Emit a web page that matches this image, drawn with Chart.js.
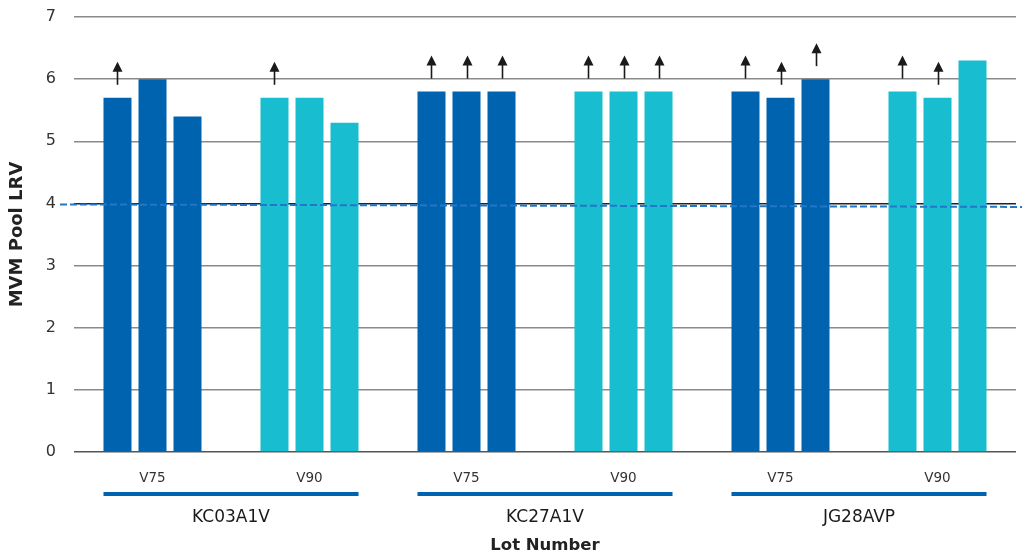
<!DOCTYPE html>
<html>
<head>
<meta charset="utf-8">
<script src="https://cdn.jsdelivr.net/npm/chart.js@4.4.1/dist/chart.umd.min.js"></script>
<style>
  html, body { margin: 0; padding: 0; background: #fff; }
  #wrap { width: 1022px; height: 556px; }
</style>
</head>
<body>
<div id="wrap"><canvas id="lrvChart" width="1022" height="556"></canvas></div>
<script>
const lots = ['KC03A1V', 'KC27A1V', 'JG28AVP'];
const categories = ['V75', 'V90', 'V75', 'V90', 'V75', 'V90'];
const run1 = [5.7, 5.7, 5.8, 5.8, 5.8, 5.8];
const run2 = [6.0, 5.7, 5.8, 5.8, 5.7, 5.7];
const run3 = [5.4, 5.3, 5.8, 5.8, 6.0, 6.3];
// true where the result is a "greater than" value (arrow above bar)
const run1Greater = [true, true, true, true, true, true];
const run2Greater = [false, false, true, true, true, true];
const run3Greater = [false, false, true, true, true, false];
const thresholdLine = [4.0, 3.96]; // start / end of the dashed reference line
const yTicks = [0, 1, 2, 3, 4, 5, 6, 7];

const darkBlue = '#0063b0';
const cyan = '#18bed0';
const barColors = categories.map(c => c === 'V75' ? darkBlue : cyan);
const FONT = '"DejaVu Sans", Verdana, sans-serif';

const overlay = {
    id: 'overlay',
    afterDatasetsDraw(chart) {
        const ctx = chart.ctx;
        const y = chart.scales.y;
        // dashed reference line
        ctx.save();
        ctx.strokeStyle = '#2277c6';
        ctx.lineWidth = 2;
        ctx.setLineDash([7, 3]);
        ctx.beginPath();
        ctx.moveTo(60, y.getPixelForValue(thresholdLine[0]) + 1);
        ctx.lineTo(chart.width, y.getPixelForValue(thresholdLine[1]) + 1);
        ctx.stroke();
        ctx.restore();

        // arrows for "greater than" results
        const flags = [run1Greater, run2Greater, run3Greater];
        ctx.save();
        ctx.strokeStyle = '#1a1a1a';
        ctx.fillStyle = '#1a1a1a';
        ctx.lineWidth = 1.6;
        chart.data.datasets.forEach((ds, di) => {
            const meta = chart.getDatasetMeta(di);
            meta.data.forEach((bar, i) => {
                if (!flags[di][i]) return;
                const x = Math.round(bar.x) + 0.5;
                const bottom = bar.y - 13;
                const tip = bar.y - 36;
                ctx.beginPath();
                ctx.moveTo(x, bottom);
                ctx.lineTo(x, tip + 7);
                ctx.stroke();
                ctx.beginPath();
                ctx.moveTo(x, tip);
                ctx.lineTo(x - 5, tip + 10);
                ctx.lineTo(x + 5, tip + 10);
                ctx.closePath();
                ctx.fill();
            });
        });
        ctx.restore();
    },
    afterDraw(chart) {
        const ctx = chart.ctx;
        const first = chart.getDatasetMeta(0).data;
        const last = chart.getDatasetMeta(2).data;
        ctx.save();
        lots.forEach((lot, i) => {
            const a = first[2 * i];
            const b = last[2 * i + 1];
            const x0 = a.x - a.width / 2;
            const x1 = b.x + b.width / 2;
            ctx.fillStyle = darkBlue;
            ctx.fillRect(x0, 492, x1 - x0, 4);
            ctx.fillStyle = '#1a1a1a';
            ctx.font = '17px ' + FONT;
            ctx.textAlign = 'center';
            ctx.textBaseline = 'middle';
            ctx.fillText(lot, (x0 + x1) / 2, 518);
        });
        ctx.restore();
    }
};

const canvas = document.getElementById('lrvChart');
new Chart(canvas.getContext('2d'), {
    type: 'bar',
    data: {
        labels: categories,
        datasets: [
            { label: 'Run 1', data: run1, backgroundColor: barColors },
            { label: 'Run 2', data: run2, backgroundColor: barColors },
            { label: 'Run 3', data: run3, backgroundColor: barColors }
        ]
    },
    options: {
        responsive: false,
        animation: false,
        devicePixelRatio: 1,
        categoryPercentage: 0.669,
        barPercentage: 0.8,
        layout: { padding: { top: 17, right: 6, left: 0, bottom: 0 } },
        plugins: { legend: { display: false }, tooltip: { enabled: false } },
        scales: {
            x: {
                grid: { display: false },
                border: { display: false },
                ticks: { color: '#333', font: { family: FONT, size: 13.5 }, padding: 10 },
                title: {
                    display: true,
                    text: 'Lot Number',
                    color: '#222',
                    font: { family: FONT, size: 16.5, weight: 'bold' },
                    padding: { top: 0, bottom: 0 }
                },
                afterFit(scale) { scale.height = 104; scale.paddingLeft = 0; scale.paddingRight = 0; }
            },
            y: {
                min: 0,
                max: 7,
                afterBuildTicks(scale) { scale.ticks = yTicks.map(v => ({ value: v })); },
                grid: {
                    drawTicks: false,
                    lineWidth: 1.5,
                    color: c => c.tick.value === 4 ? '#222' : (c.tick.value === 0 ? '#555' : '#8a8a8a')
                },
                border: { display: false },
                ticks: { color: '#333', font: { family: FONT, size: 16 }, padding: 18 },
                title: {
                    display: true,
                    text: 'MVM Pool LRV',
                    color: '#222',
                    font: { family: FONT, size: 18, weight: 'bold' },
                    padding: { top: 7, bottom: 0 }
                },
                afterFit(scale) { scale.width = 74; scale.paddingTop = 0; scale.paddingBottom = 0; }
            }
        }
    },
    plugins: [overlay]
});
</script>
</body>
</html>
